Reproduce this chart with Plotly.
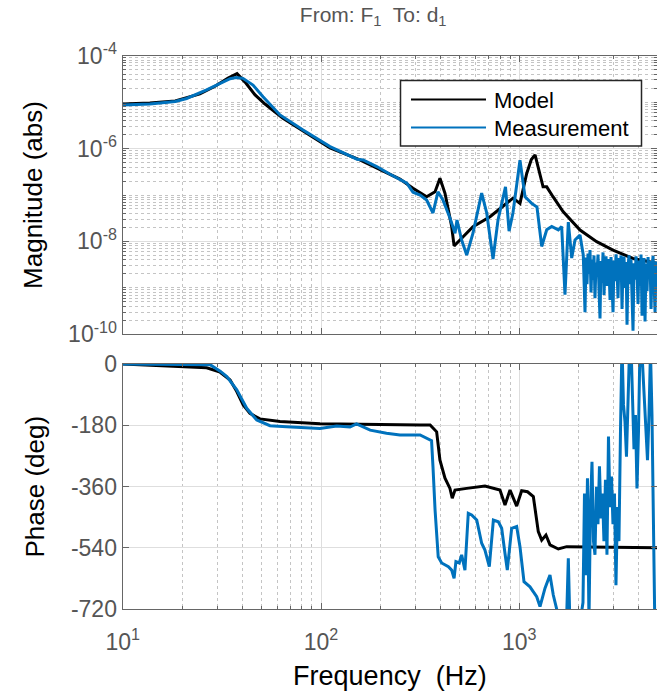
import plotly.graph_objects as go

# ---------------- data ----------------
model_mag_freq = [10.0, 13.7, 18.4, 24.5, 29.2, 34.0, 37.7, 41.4, 46.5, 52.2, 64.3, 88.0, 111, 157,
                  198, 250, 291, 341, 376, 398, 422, 456, 469, 502, 584, 712, 828, 930, 1008,
                  1090, 1150, 1201, 1318, 1375, 1479, 1662, 2025, 2456, 2969, 3744, 4955]
model_mag = [9.1e-6, 9.6e-6, 1.06e-5, 1.5e-5, 2.2e-5, 3.3e-5, 4.1e-5, 2.7e-5, 1.43e-5, 9.1e-6,
             4.5e-6, 1.96e-6, 1.03e-6, 5.7e-7, 3.6e-7, 2.2e-7, 1.4e-7, 9.2e-8, 1.18e-7, 2.3e-7,
             1.09e-7, 2.1e-8, 8.0e-9, 1.07e-8, 2.07e-8, 3.4e-8, 5.6e-8, 8.6e-8, 6.6e-8,
             2.9e-7, 5.8e-7, 7.3e-7, 1.5e-7, 1.5e-7, 9.2e-8, 4.4e-8, 1.76e-8, 9.9e-9, 6.5e-9,
             4.3e-9, 3.4e-9]

meas_mag_freq = [10.0, 13.7, 18.4, 21.0, 26.5, 31.0, 34.8, 37.3, 40.4, 45.4, 51.0, 62.1, 81.2, 111,
                 152, 163, 191, 223, 271, 291, 316, 341, 367, 389, 412, 447, 474, 485, 512, 543,
                 584, 646, 685, 737, 781, 852, 888, 929, 1008, 1069, 1155, 1228, 1297, 1375, 1457,
                 1573, 1636, 1700, 1767, 1838, 1910, 2024, 2102,
                 2145, 2170, 2195, 2221, 2247, 2273, 2300, 2327, 2354, 2381, 2409, 2437, 2466,
                 2495, 2524, 2553, 2583, 2613, 2644, 2675, 2706, 2738, 2770, 2802, 2835, 2868,
                 2901, 2935, 2970, 3004, 3039, 3075, 3111, 3147, 3184, 3221, 3259, 3297, 3335,
                 3374, 3414, 3454, 3494, 3535, 3576, 3618, 3660, 3703, 3746, 3790, 3834, 3879,
                 3924, 3970, 4017, 4064, 4111, 4159, 4208, 4257, 4307, 4357, 4408, 4460, 4512,
                 4565, 4618, 4672, 4727, 4782, 4838, 4895]
meas_mag = [8.7e-6, 9.1e-6, 1.03e-5, 1.2e-5, 1.83e-5, 2.55e-5, 3.2e-5, 3.4e-5, 3.25e-5, 2.33e-5,
            1.31e-5, 5.3e-6, 2.5e-6, 1.1e-6, 5.9e-7, 5.7e-7, 4.1e-7, 2.8e-7, 1.8e-7, 1.15e-7,
            1.0e-7, 7.8e-8, 4.1e-8, 1.17e-7, 7.8e-8, 3.2e-8, 1.5e-8, 2.9e-8, 1.07e-8, 5.1e-9,
            1.5e-8, 1.1e-7, 4.1e-8, 4.2e-9, 2.9e-8, 1.5e-7, 1.66e-8, 4.1e-8, 5.6e-7, 9.1e-8,
            6.6e-8, 5.5e-8, 7.8e-9, 1.78e-8, 2.1e-8, 1.78e-8, 2.1e-8, 7.1e-10, 2.6e-8, 4.4e-9,
            1.07e-8, 1.38e-8, 5.1e-9,
            3.0e-10, 4.5e-9, 1.2e-9, 5.5e-9, 2.0e-9, 6.5e-9, 8.0e-10, 4.0e-9, 1.5e-9, 5.0e-9,
            6.0e-10, 3.5e-9, 2.2e-9, 5.2e-9, 9.0e-10, 2.2e-10, 3.8e-9, 1.3e-9, 5.8e-9, 7.0e-10,
            3.2e-9, 4.8e-9, 1.1e-9, 4.2e-9, 2.6e-9, 5.5e-10, 4.6e-9, 1.7e-9, 3.0e-10, 3.9e-9,
            1.4e-9, 5.3e-9, 2.4e-9, 6.0e-10, 4.4e-9, 1.9e-9, 5.0e-9, 3.5e-10, 3.0e-9, 4.7e-9,
            1.0e-9, 3.6e-9, 1.6e-10, 2.8e-9, 5.0e-9, 1.2e-9, 4.1e-9, 6.5e-10, 1.2e-10, 3.4e-9,
            1.5e-9, 4.8e-9, 2.1e-9, 4.5e-10, 3.9e-9, 1.1e-9, 5.2e-9, 2.5e-10, 2.9e-9, 4.4e-9,
            1.9e-10, 3.3e-9, 8.5e-10, 4.6e-9, 1.6e-9, 3.8e-9, 3.5e-10, 2.6e-9, 4.9e-9, 1.3e-9,
            3.0e-10, 3.7e-9]

model_phase_freq = [10.0, 26.5, 31.0, 34.8, 37.6, 40.5, 43.8, 49.2, 62.1, 98.8, 316, 355, 383,
                    398, 422, 447, 459, 474, 543, 671, 799, 847, 898, 970, 1028, 1100, 1177, 1247,
                    1297, 1363, 1428, 1573, 1734, 4955]
model_phase = [0, -11, -24, -47, -81, -120, -145, -161, -169, -175, -179, -179, -199,
               -282, -335, -365, -394, -370, -365, -358, -370, -414, -370, -417, -372, -375, -389,
               -492, -517, -502, -531, -543, -536, -539]

meas_phase_freq = [10.0, 26.5, 27.6, 31.0, 33.5, 37.6, 42.2, 47.4, 55.3, 67.1, 98.8, 120, 140, 151,
                   177, 214, 250, 316, 361, 367, 376, 390, 406, 439, 456, 469, 479, 498, 512,
                   532, 553, 575, 610, 646, 671, 706, 740, 784, 815, 847, 870, 915, 970, 1008,
                   1056, 1132, 1224, 1272, 1348, 1428, 1484, 1605, 1734, 1767, 1803, 1873, 1947,
                   2024,
                   2095, 2132, 2169, 2207, 2246, 2285, 2326, 2367, 2408, 2450, 2493, 2537, 2582,
                   2627, 2673, 2720, 2768, 2817, 2866, 2917, 2968, 3020, 3073, 3127, 3182, 3238,
                   3295, 3353, 3412, 3472, 3533, 3595, 3658, 3722, 3788, 3854, 3922, 3991, 4061,
                   4133, 4205, 4279, 4354, 4431, 4509, 4588, 4669, 4751, 4834, 4919]
meas_phase = [0, -1, -2, -21, -37, -76, -130, -164, -181, -184, -189, -182, -185, -176,
              -194, -203, -208, -208, -225, -301, -428, -566, -584, -595, -605, -629, -580, -584,
              -560, -605, -438, -443, -458, -526, -546, -595, -458, -463, -482, -556, -605, -482,
              -477, -536, -639, -654, -683, -712, -658, -619, -678, -760, -740, -570, -780, -725,
              -790, -760,
              -700, -380, -620, -335, -760, -420, -287, -520, -560, -360, -470, -300, -453,
              -380, -520, -340, -560, -213, -420, -330, -470, -380, -649, -420, -520, -200,
              60, -120, -169, -272, -100, 40, 60, -80, -250, -150, -365, -200, 50,
              60, -30, -120, -200, -282, -150, 40, -150, -500, -800, -850]

series_names = ['Model', 'Measurement']
mag_tick_vals = [1e-10, 1e-8, 1e-6, 1e-4]
mag_tick_text = ['10<sup>-10</sup>', '10<sup>-8</sup>', '10<sup>-6</sup>', '10<sup>-4</sup>']
phase_tick_vals = [-720, -540, -360, -180, 0]
phase_tick_text = ['-720', '-540', '-360', '-180', '0']
freq_tick_vals = [10, 100, 1000]
freq_tick_text = ['10<sup>1</sup>', '10<sup>2</sup>', '10<sup>3</sup>']

# ---------------- styling ----------------
BLUE = '#0072BD'
TICKC = '#555555'
AXC = '#666666'
GRID = '#dedede'
MINGRID = '#c4c4c4'
FONT = 'Liberation Sans, Arial, sans-serif'
W, H = 657, 691
LW = 3.0

freq_minor = [k * 10 ** n for n in (1, 2, 3) for k in range(2, 10) if k * 10 ** n < 5000]
mag_minor = [k * 10.0 ** n for n in range(-10, -4) for k in range(1, 10)
             if not (k == 1 and n % 2 == 0)]

fig = go.Figure()
fig.add_trace(go.Scatter(x=model_mag_freq, y=model_mag, mode='lines', name=series_names[0],
                         line=dict(color='black', width=LW), xaxis='x', yaxis='y'))
fig.add_trace(go.Scatter(x=meas_mag_freq, y=meas_mag, mode='lines', name=series_names[1],
                         line=dict(color=BLUE, width=LW), xaxis='x', yaxis='y'))
fig.add_trace(go.Scatter(x=model_phase_freq, y=model_phase, mode='lines', name=series_names[0],
                         line=dict(color='black', width=LW), xaxis='x2', yaxis='y2'))
fig.add_trace(go.Scatter(x=meas_phase_freq, y=meas_phase, mode='lines', name=series_names[1],
                         line=dict(color=BLUE, width=LW), xaxis='x2', yaxis='y2'))

xr = [1, 3.6945]
common_x = dict(type='log', range=xr, domain=[0.1868, 1.0], tickvals=freq_tick_vals,
                ticks='inside', ticklen=6, tickcolor=AXC, showline=True, linecolor=AXC,
                linewidth=1.3, mirror='ticks', showgrid=True, gridcolor=GRID, gridwidth=1,
                zeroline=False, automargin=False,
                minor=dict(tickmode='array', tickvals=freq_minor, ticks='inside', ticklen=3,
                           tickcolor=AXC, showgrid=True, gridcolor=MINGRID, griddash='dot',
                           gridwidth=1))


# legend drawn as a boxed key in the top-right of the magnitude panel
def px_x(p):
    return p / W


def px_y(p):
    return 1 - p / H


shapes = [
    dict(type='rect', xref='paper', yref='paper', x0=px_x(400.5), x1=px_x(641.5),
         y0=px_y(146), y1=px_y(80.5), line=dict(color='#262626', width=1.5),
         fillcolor='white', layer='above'),
    dict(type='line', xref='paper', yref='paper', x0=px_x(411), x1=px_x(486),
         y0=px_y(99.5), y1=px_y(99.5), line=dict(color='black', width=2.2), layer='above'),
    dict(type='line', xref='paper', yref='paper', x0=px_x(411), x1=px_x(486),
         y0=px_y(127.5), y1=px_y(127.5), line=dict(color=BLUE, width=2.2), layer='above'),
]
annotations = [
    dict(text=series_names[0], xref='paper', yref='paper', x=px_x(492), y=px_y(100),
         xanchor='left', yanchor='middle', showarrow=False,
         font=dict(size=22, color='black', family=FONT)),
    dict(text=series_names[1], xref='paper', yref='paper', x=px_x(492), y=px_y(128),
         xanchor='left', yanchor='middle', showarrow=False,
         font=dict(size=22, color='black', family=FONT)),
]

fig.update_layout(
    template='none',
    width=W, height=H, margin=dict(l=0, r=0, t=0, b=0, autoexpand=False),
    paper_bgcolor='white', plot_bgcolor='white',
    font=dict(family=FONT, color=TICKC, size=22),
    showlegend=False,
    title=dict(text='From: F<sub>1</sub>  To: d<sub>1</sub>', x=0.568, xanchor='center',
               y=0.979, yanchor='middle', font=dict(size=21, color=TICKC, family=FONT)),
    xaxis=dict(**common_x, anchor='y', showticklabels=False),
    xaxis2=dict(**common_x, anchor='y2', showticklabels=True, ticktext=freq_tick_text,
                tickfont=dict(size=23, color=TICKC), ticklabelstandoff=12,
                title=dict(text='Frequency  (Hz)', font=dict(size=27, color='black'), standoff=13)),
    yaxis=dict(type='log', range=[-10, -4], domain=[0.5162, 0.9194], anchor='x',
               tickvals=mag_tick_vals, ticktext=mag_tick_text, tickfont=dict(size=23, color=TICKC),
               ticks='inside', ticklen=6, tickcolor=AXC, showline=True, linecolor=AXC,
               linewidth=1.3, mirror='ticks', showgrid=True, gridcolor=GRID, zeroline=False,
               automargin=False,
               title=dict(text='Magnitude (abs)', font=dict(size=26, color='black'), standoff=18),
               minor=dict(tickmode='array', tickvals=mag_minor, ticks='inside', ticklen=3,
                          tickcolor=AXC, showgrid=True, gridcolor=MINGRID, griddash='dot')),
    yaxis2=dict(range=[-720, 0], domain=[0.1182, 0.4732], anchor='x2',
                tickvals=phase_tick_vals, ticktext=phase_tick_text,
                tickfont=dict(size=23, color=TICKC),
                ticks='inside', ticklen=6, tickcolor=AXC, showline=True, linecolor=AXC,
                linewidth=1.3, mirror='ticks', showgrid=True, gridcolor=GRID, zeroline=False,
                automargin=False,
                title=dict(text='Phase (deg)', font=dict(size=26, color='black'), standoff=18)),
    shapes=shapes,
    annotations=annotations,
)

fig.write_html('out.html', config={'displayModeBar': False},
               post_script="document.body.style.margin='0';document.body.style.overflow='hidden';")
